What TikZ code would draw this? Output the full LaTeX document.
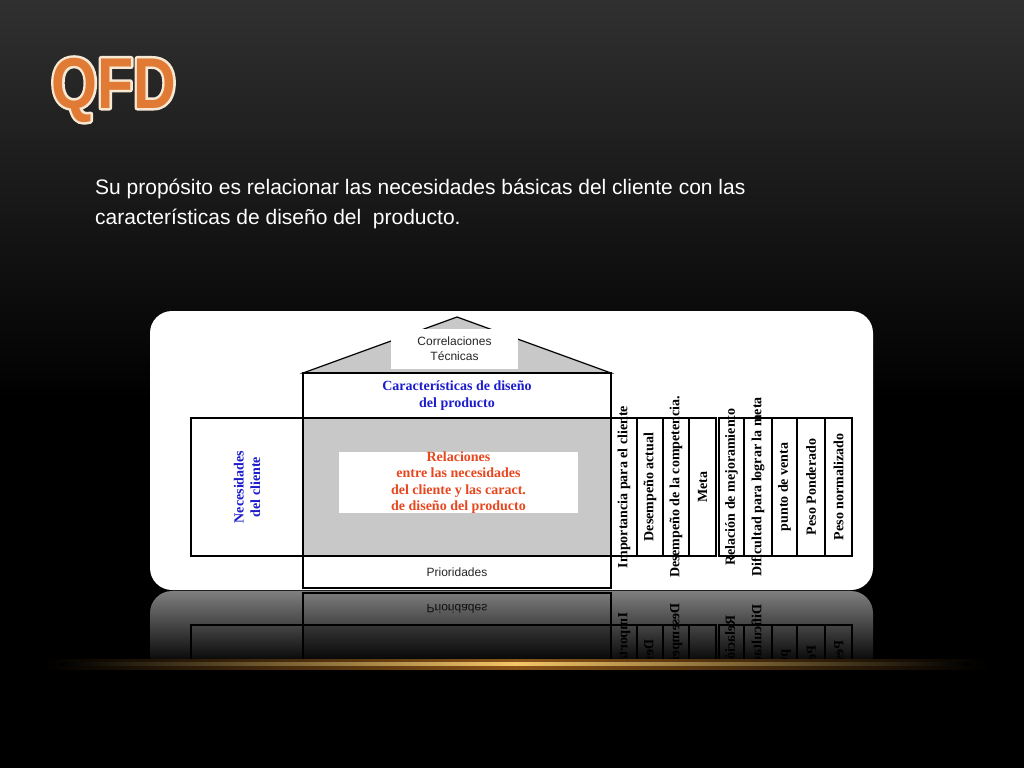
\documentclass[tikz,border=0pt]{standalone}
\usepackage{fontspec}
\setmainfont{Liberation Sans}
\newfontfamily\tnr{Liberation Serif}
\newfontfamily\ttlfont[FakeStretch=0.82]{Liberation Sans}
\usetikzlibrary{fadings}
\definecolor{bgtop}{HTML}{303030}
\definecolor{panelgray}{HTML}{C8C8C8}
\definecolor{qblue}{HTML}{1C1CCC}
\definecolor{qred}{HTML}{E8461E}
\definecolor{qorange}{HTML}{E07A34}
\definecolor{qcream}{HTML}{F6E8D6}
\definecolor{glow}{HTML}{F6C668}
\definecolor{glowdark}{HTML}{8A5418}
\tikzfading[name=reflfade, top color=transparent!100, bottom color=transparent!5]
\tikzset{
  box/.style={draw=black, line width=1.2, inner sep=0pt, outer sep=0pt},
  tb/.style={font=\tnr\bfseries\fontsize{14}{16.5}\selectfont, align=center, inner sep=0pt},
  sanslabel/.style={font=\fontsize{12}{15}\selectfont, text=black!85, align=center, inner sep=0pt},
  coltext/.style={font=\tnr\bfseries\fontsize{14}{16}\selectfont, text=black, inner sep=0pt},
  ttl/.style={anchor=base west, inner sep=0pt, font=\ttlfont\bfseries\fontsize{72}{72}\selectfont},
}
% boxes of the lower part (also used for the reflection)
\newcommand\qfdlower{%
  \node[box, fill=white, minimum width=112pt, minimum height=138pt] (nec) at (247,487) {};
  \node[box, fill=panelgray, minimum width=308pt, minimum height=138pt] (rel) at (457,487) {};
  \node[box, fill=white, minimum width=308pt, minimum height=32pt] (pri) at (457,572) {};
  \node[sanslabel] (priT) at (pri.center) {Prioridades};
  \foreach \xl/\xr in {611/637, 637/663, 663/689, 689/716, 719/744, 744/772, 772/797, 797/825, 825/852}{
    \node[box, fill=white, minimum width={(\xr-\xl)*1pt}, minimum height=138pt] (col\xl) at ({(\xl+\xr)/2},487) {};
  }
  \foreach \xl/\t in {611/{Importancia para el cliente}, 637/{Desempeño actual},
      663/{Desempeño de la competencia.}, 689/{Meta}, 719/{Relación de mejoramiento},
      744/{Dificultad para lograr la meta}, 772/{punto de venta}, 797/{Peso Ponderado},
      825/{Peso normalizado}}{
    \node[coltext, rotate=90] (colT\xl) at (col\xl.center) {\t};
  }
}
\begin{document}
\begin{tikzpicture}[x=1pt,y=-1pt]
\useasboundingbox (0,0) rectangle (1024,768);
% background
\fill[black] (0,0) rectangle (1024,768);
\shade[top color=bgtop, bottom color=black] (0,0) rectangle (1024,400);
% title: outline (stroked text) under the filled text
\node[ttl, text=qcream] (titleO) at (51,108)
  {\special{pdf:literal direct 0.97 0.91 0.83 RG 5 w 1 j 1 Tr}QFD\special{pdf:literal direct 0 Tr}};
\node[ttl, text=qorange] (title) at (51,108) {QFD};
% subtitle
\node[anchor=base west, inner sep=0pt, text=white, font=\fontsize{21}{28}\selectfont] (sub1) at (95,194) {Su propósito es relacionar las necesidades básicas del cliente con las};
\node[anchor=base west, inner sep=0pt, text=white, font=\fontsize{21}{28}\selectfont] (sub2) at (95,224) {características de diseño del~ producto.};
% panel
\fill[white, rounded corners=22pt] (150,311) rectangle (873,590);
% roof
\filldraw[fill=panelgray, draw=black, line width=1.2] (303,373) -- (457,317) -- (611,373) -- cycle;
\node[fill=white, minimum width=127pt, minimum height=40pt, inner sep=0pt] (corr) at (454.5,349) {};
\node[sanslabel] (corrT) at (corr.center) {Correlaciones\\Técnicas};
% caracteristicas
\node[box, fill=white, minimum width=308pt, minimum height=45pt] (car) at (457,395.5) {};
\node[tb, text=qblue] (carT) at (car.center) {Características de diseño\\del producto};
\qfdlower
\node[tb, text=qblue, rotate=90] (necT) at (nec.center) {Necesidades\\del cliente};
\node[fill=white, minimum width=239pt, minimum height=61pt, inner sep=0pt] (relIn) at (458.5,482.5) {};
\node[tb, text=qred] (relT) at (relIn.center) {Relaciones\\entre las necesidades\\del cliente y las caract.\\de diseño del producto};
% reflection
\begin{scope}
  \clip (140,591) rectangle (890,662);
  \begin{scope}[shift={(0,1181)}, yscale=-1, transform shape]
    \fill[white, rounded corners=22pt] (150,311) rectangle (873,590);
    \qfdlower
  \end{scope}
  \fill[black, opacity=0.5] (140,591) rectangle (890,662);
  \fill[black, path fading=reflfade] (140,591) rectangle (890,662);
\end{scope}
% glow line
\shade[left color=black, right color=black, middle color=glowdark] (40,659) rectangle (990,669);
\shade[left color=black, right color=black, middle color=glow] (60,662) rectangle (970,665.5);
\end{tikzpicture}
\end{document}
